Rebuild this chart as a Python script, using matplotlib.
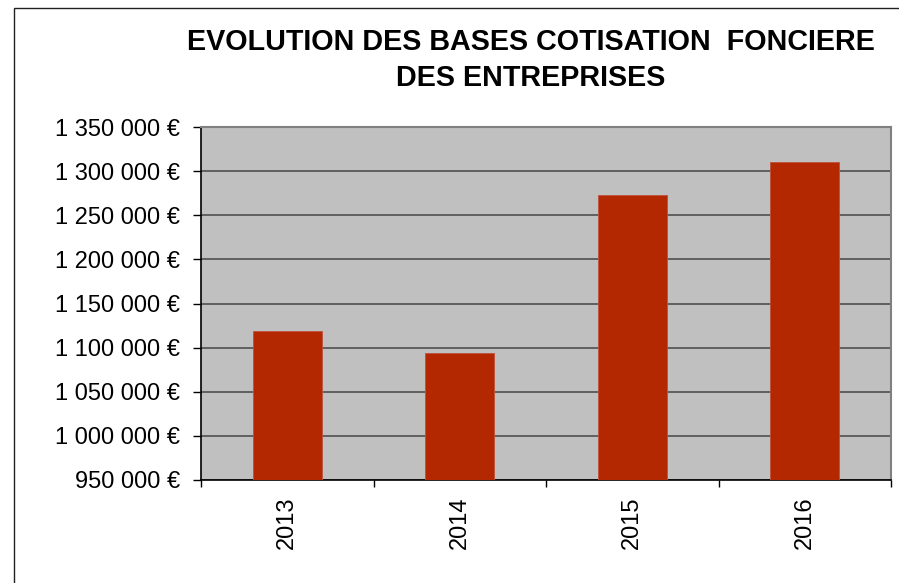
import matplotlib
matplotlib.use('Agg')
import matplotlib.pyplot as plt
from matplotlib.ticker import FuncFormatter, MultipleLocator
from matplotlib.patches import Rectangle

plt.rcParams['font.family'] = ['Liberation Sans', 'DejaVu Sans']

# data
years = ['2013', '2014', '2015', '2016']
bases = [1119000, 1094000, 1273000, 1310000]

title_lines = ['EVOLUTION DES BASES COTISATION  FONCIERE', 'DES ENTREPRISES']


def euro(v, pos):
    s = '{:,.0f}'.format(v).replace(',', ' ')
    return s + ' €'


fig = plt.figure(figsize=(8.99, 5.83), dpi=100)
ax = fig.add_axes([201/899, 1 - 480/583, 690/899, 353/583])
ax.set_facecolor('#C0C0C0')

x = list(range(len(years)))
ax.bar(x, bases, width=0.4, color='#B32800', edgecolor='#C0503A', linewidth=0.6, zorder=3)

ax.set_ylim(950000, 1350000)
ax.set_xlim(-0.5, len(years) - 0.5)
ax.yaxis.set_major_locator(MultipleLocator(50000))
ax.yaxis.set_major_formatter(FuncFormatter(euro))
ax.grid(axis='y', color='#505050', linewidth=1.2, zorder=1)
ax.set_axisbelow(True)

# category labels in the middle, ticks on the boundaries
ax.set_xticks(x)
ax.set_xticklabels(years, rotation=90)
ax.set_xticks([i - 0.5 for i in range(len(years) + 1)], minor=True)
ax.tick_params(axis='x', which='major', length=0, pad=12, labelsize=17)
ax.tick_params(axis='x', which='minor', length=5, width=1, color='black')
ax.tick_params(axis='y', length=5.8, width=1, pad=9, labelsize=17)

for side in ['left', 'bottom']:
    ax.spines[side].set_color('black')
    ax.spines[side].set_linewidth(1.2)
for side in ['top', 'right']:
    ax.spines[side].set_color('#808080')
    ax.spines[side].set_linewidth(1.5)

# title, one text per line (baselines)
for line, ypix in zip(title_lines, [50, 86]):
    fig.text(531/899, 1 - ypix/583, line, ha='center', va='baseline',
             fontsize=20.7, fontweight='bold')

# chart area frame (only top and left visible in the reference)
fig.patches.append(Rectangle((14/899, -0.1), 1.2, 1 - 8/583 + 0.1,
                             transform=fig.transFigure, fill=False,
                             edgecolor='#202020', linewidth=1.0))

fig.savefig('out.png', dpi=100)
